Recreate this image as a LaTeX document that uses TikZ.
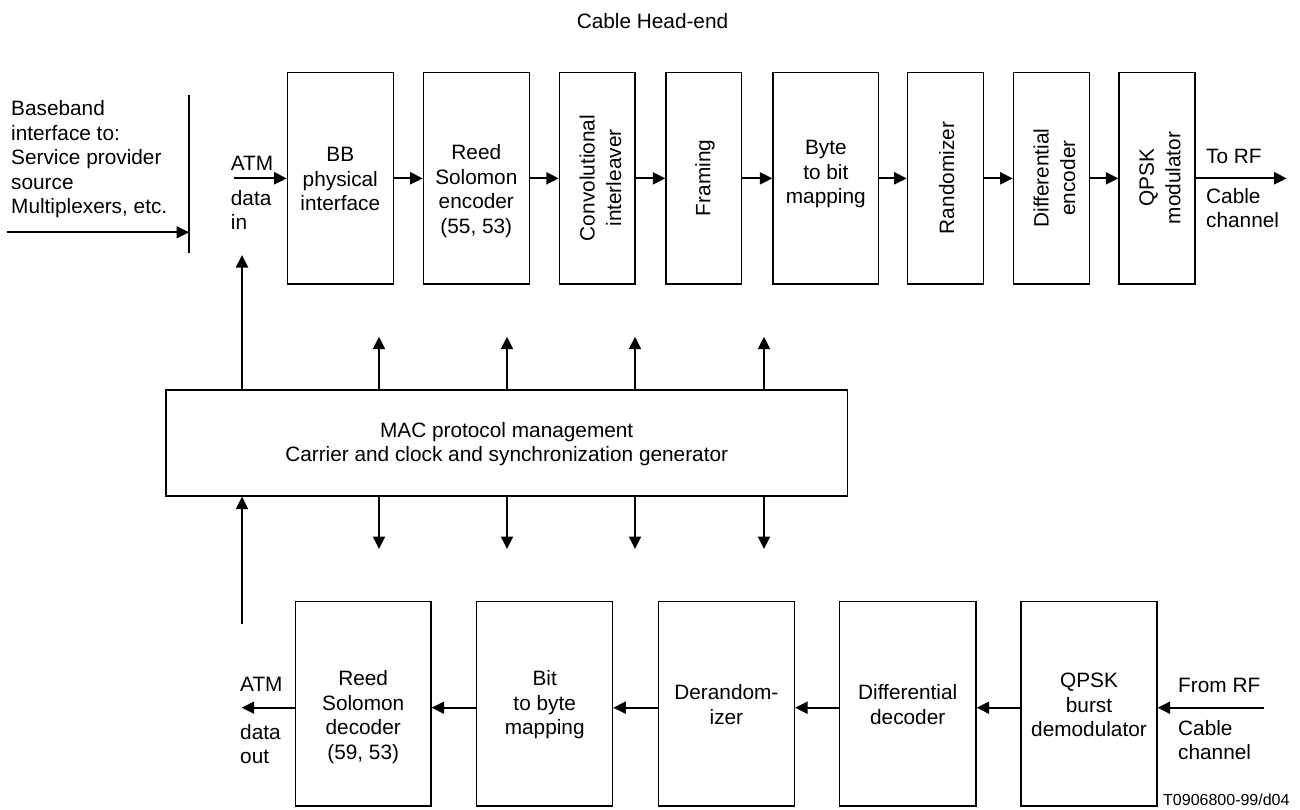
\documentclass[tikz,border=0pt]{standalone}
\usepackage{fontspec}
\setmainfont{Liberation Sans}
\usetikzlibrary{arrows.meta}
\begin{document}
\begin{tikzpicture}[x=1pt,y=-1pt,
  box/.style={draw, line width=1.2pt, inner sep=0pt},
  lbl/.style={font=\fontsize{20.8}{24.5}\selectfont, align=center, inner sep=0pt},
  rlbl/.style={font=\fontsize{20.8}{26.5}\selectfont, align=center, inner sep=0pt, rotate=90},
  side/.style={font=\fontsize{20.8}{24.5}\selectfont, align=left, inner sep=0pt, anchor=west},
  arr/.style={line width=2pt, -{Triangle[length=12.5pt,width=12pt]}},
  plain/.style={line width=2pt},
]
\useasboundingbox (0,0) rectangle (1300,810);

% title
\node[lbl] (title) at (652.5,20.7) {Cable Head-end};

% left interface
\node[side] (base) at (11,159.2) {Baseband\\interface to:\\Service provider\\source\\Multiplexers, etc.};
\coordinate (bartop) at (189,95);
\coordinate (barbot) at (189,253);
\draw[plain] (bartop) -- (barbot);
\coordinate (srcin) at (7,232.3);
\coordinate (barin) at (189,232.3);
\draw[arr] (srcin) -- (barin);

% top row boxes
\node[box, minimum width=106pt, minimum height=211.3pt] (bb) at (340.3,178.35) {};
\node[box, minimum width=106pt, minimum height=211.3pt] (rse) at (476.3,178.35) {};
\node[box, minimum width=75.7pt, minimum height=211.3pt] (conv) at (597.2,178.35) {};
\node[box, minimum width=75.7pt, minimum height=211.3pt] (fram) at (703.8,178.35) {};
\node[box, minimum width=105.7pt, minimum height=211.3pt] (byte) at (825.8,178.35) {};
\node[box, minimum width=76pt, minimum height=211.3pt] (rand) at (945.3,178.35) {};
\node[box, minimum width=76pt, minimum height=211.3pt] (diffe) at (1051.3,178.35) {};
\node[box, minimum width=76pt, minimum height=211.3pt] (qpskm) at (1157,178.35) {};

\node[lbl] (bbt) at (340.3,179) {BB\\physical\\interface};
\node[lbl] (rset) at (476.3,191) {Reed\\Solomon\\encoder\\(55, 53)};
\node[rlbl] (convt) at (600.5,178) {Convolutional\\interleaver};
\node[rlbl] (framt) at (705,178) {Framing};
\node[lbl] (bytet) at (825.8,174.5) {Byte\\to bit\\mapping};
\node[rlbl] (randt) at (946.7,178) {Randomizer};
\node[rlbl] (diffet) at (1054.3,178) {Differential\\encoder};
\node[rlbl] (qpskmt) at (1160,178) {QPSK\\modulator};

\draw[arr] (bb) -- (rse);
\draw[arr] (rse) -- (conv);
\draw[arr] (conv) -- (fram);
\draw[arr] (fram) -- (byte);
\draw[arr] (byte) -- (rand);
\draw[arr] (rand) -- (diffe);
\draw[arr] (diffe) -- (qpskm);
\coordinate (rfout) at (1286.7,178.35);
\draw[arr] (qpskm) -- (rfout);

\coordinate (atmin) at (234,178.35);
\draw[arr] (atmin) -- (bb);

\node[side] (atmt) at (230.7,163) {ATM};
\node[side] (datat) at (230.7,210) {data\\in};
\node[side] (torf) at (1206,156.7) {To RF};
\node[side] (cabt) at (1206,208.3) {Cable\\channel};

% MAC
\node[box, minimum width=681.3pt, minimum height=106pt] (mac) at (506.7,443) {};
\node[lbl] (mact) at (506.7,444) {MAC protocol management\\Carrier and clock and synchronization generator};

\coordinate (upin) at (242,255);
\draw[arr] (mac.north -| upin) -- (upin);
\coordinate (t1) at (379,336.7);
\coordinate (t2) at (507,336.7);
\coordinate (t3) at (635,336.7);
\coordinate (t4) at (764,336.7);
\coordinate (b1) at (379,549);
\coordinate (b2) at (507,549);
\coordinate (b3) at (635,549);
\coordinate (b4) at (764,549);
\foreach \k in {1,2,3,4} {
  \draw[arr] (mac.north -| t\k) -- (t\k);
  \draw[arr] (mac.south -| b\k) -- (b\k);
}
\coordinate (retin) at (242,624);
\draw[arr] (retin) -- (mac.south -| retin);

% bottom row
\node[box, minimum width=135.7pt, minimum height=204.3pt] (rsd) at (363.2,703.85) {};
\node[box, minimum width=136pt, minimum height=204.3pt] (b2b) at (544.7,703.85) {};
\node[box, minimum width=136.2pt, minimum height=204.3pt] (der) at (726.4,703.85) {};
\node[box, minimum width=136.7pt, minimum height=204.3pt] (dd) at (907.7,703.85) {};
\node[box, minimum width=136pt, minimum height=204.3pt] (qb) at (1089,703.85) {};

\node[lbl] (rsdt) at (363.2,717) {Reed\\Solomon\\decoder\\(59, 53)};
\node[lbl] (b2bt) at (544.7,705) {Bit\\to byte\\mapping};
\node[lbl] (dert) at (726.4,704.5) {Derandom-\\izer};
\node[lbl] (ddt) at (907.7,704.5) {Differential\\decoder};
\node[lbl] (qbt) at (1089,705) {QPSK\\burst\\demodulator};

\coordinate (ay) at (0,707.7);
\coordinate (rfin) at (1264,707.7);
\coordinate (atmout) at (241.7,707.7);
\draw[arr] (rfin) -- (qb.east |- ay);
\draw[arr] (qb.west |- ay) -- (dd.east |- ay);
\draw[arr] (dd.west |- ay) -- (der.east |- ay);
\draw[arr] (der.west |- ay) -- (b2b.east |- ay);
\draw[arr] (b2b.west |- ay) -- (rsd.east |- ay);
\draw[arr] (rsd.west |- ay) -- (atmout);

\node[side] (atmo) at (240,684) {ATM};
\node[side] (datao) at (240,744.3) {data\\out};
\node[side] (fromrf) at (1178,685) {From RF};
\node[side] (cabi) at (1178,740) {Cable\\channel};

\node[side, font=\fontsize{16}{19}\selectfont] (ref) at (1163,800) {T0906800-99/d04};
\end{tikzpicture}
\end{document}
